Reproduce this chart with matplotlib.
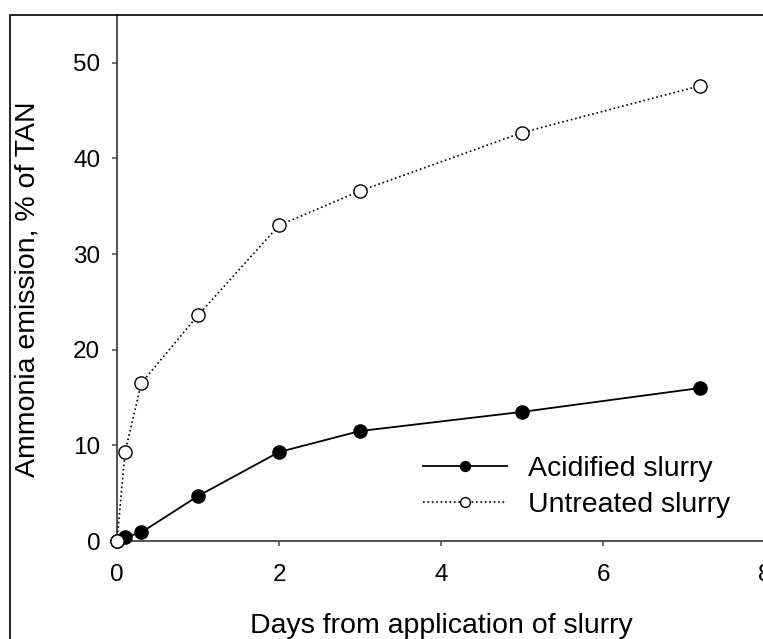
import matplotlib.pyplot as plt
from matplotlib.patches import Rectangle

plt.rcParams['font.family'] = ['Liberation Sans', 'DejaVu Sans']

# days after slurry application
days = [0, 0.1, 0.3, 1, 2, 3, 5, 7.2]
# ammonia emission, % of TAN
acidified = [0, 0.4, 0.9, 4.7, 9.3, 11.5, 13.5, 16.0]
untreated = [0, 9.3, 16.5, 23.6, 33.0, 36.6, 42.7, 47.6]

W, H = 763, 639
fig = plt.figure(figsize=(W / 100, H / 100), dpi=100)
ax = fig.add_axes([117 / W, (H - 541) / H, (765 - 117) / W, (541 - 15) / H])

# frame around the figure (cut off at right and bottom)
fig.patches.append(Rectangle((10 / W, -0.1), 1.2, (H - 15) / H + 0.1,
                             transform=fig.transFigure, fill=False,
                             edgecolor='black', linewidth=1.2))

ax.plot(days, acidified, '-o', color='black', linewidth=1.3, markersize=9.5,
        markerfacecolor='black', label='Acidified slurry', clip_on=False, zorder=3)
ax.plot(days, untreated, ':o', color='black', linewidth=1.2, markersize=9.5,
        markerfacecolor='white', label='Untreated slurry', clip_on=False, zorder=4)

ax.set_xlim(0, 8)
ax.set_ylim(0, 55)
ax.set_xticks([0, 2, 4, 6, 8])
ax.set_yticks([0, 10, 20, 30, 40, 50])
ax.spines['top'].set_visible(False)
ax.spines['right'].set_visible(False)
for s in ['left', 'bottom']:
    ax.spines[s].set_color('#444444')
    ax.spines[s].set_linewidth(1.3)
ax.tick_params(direction='out', length=3.6, width=1.1, color='#444444',
               labelsize=17.5)
ax.tick_params(axis='x', pad=13)
ax.tick_params(axis='y', pad=8.5)

fig.text(441 / W, 1 - 633 / H, 'Days from application of slurry',
         fontsize=20.5, ha='center', va='baseline')
fig.text(28 / W, 1 - 289 / H, 'Ammonia emission, % of TAN',
         fontsize=20.5, ha='center', va='center', rotation=90)

ax.legend(loc='center left', bbox_to_anchor=(423 / W, 1 - 487 / H),
          bbox_transform=fig.transFigure, frameon=False, borderpad=0,
          borderaxespad=0, fontsize=20.5, handlelength=2.95, markerscale=0.75,
          labelspacing=0.33, handletextpad=0.74)

fig.savefig('out.png', dpi=100)
